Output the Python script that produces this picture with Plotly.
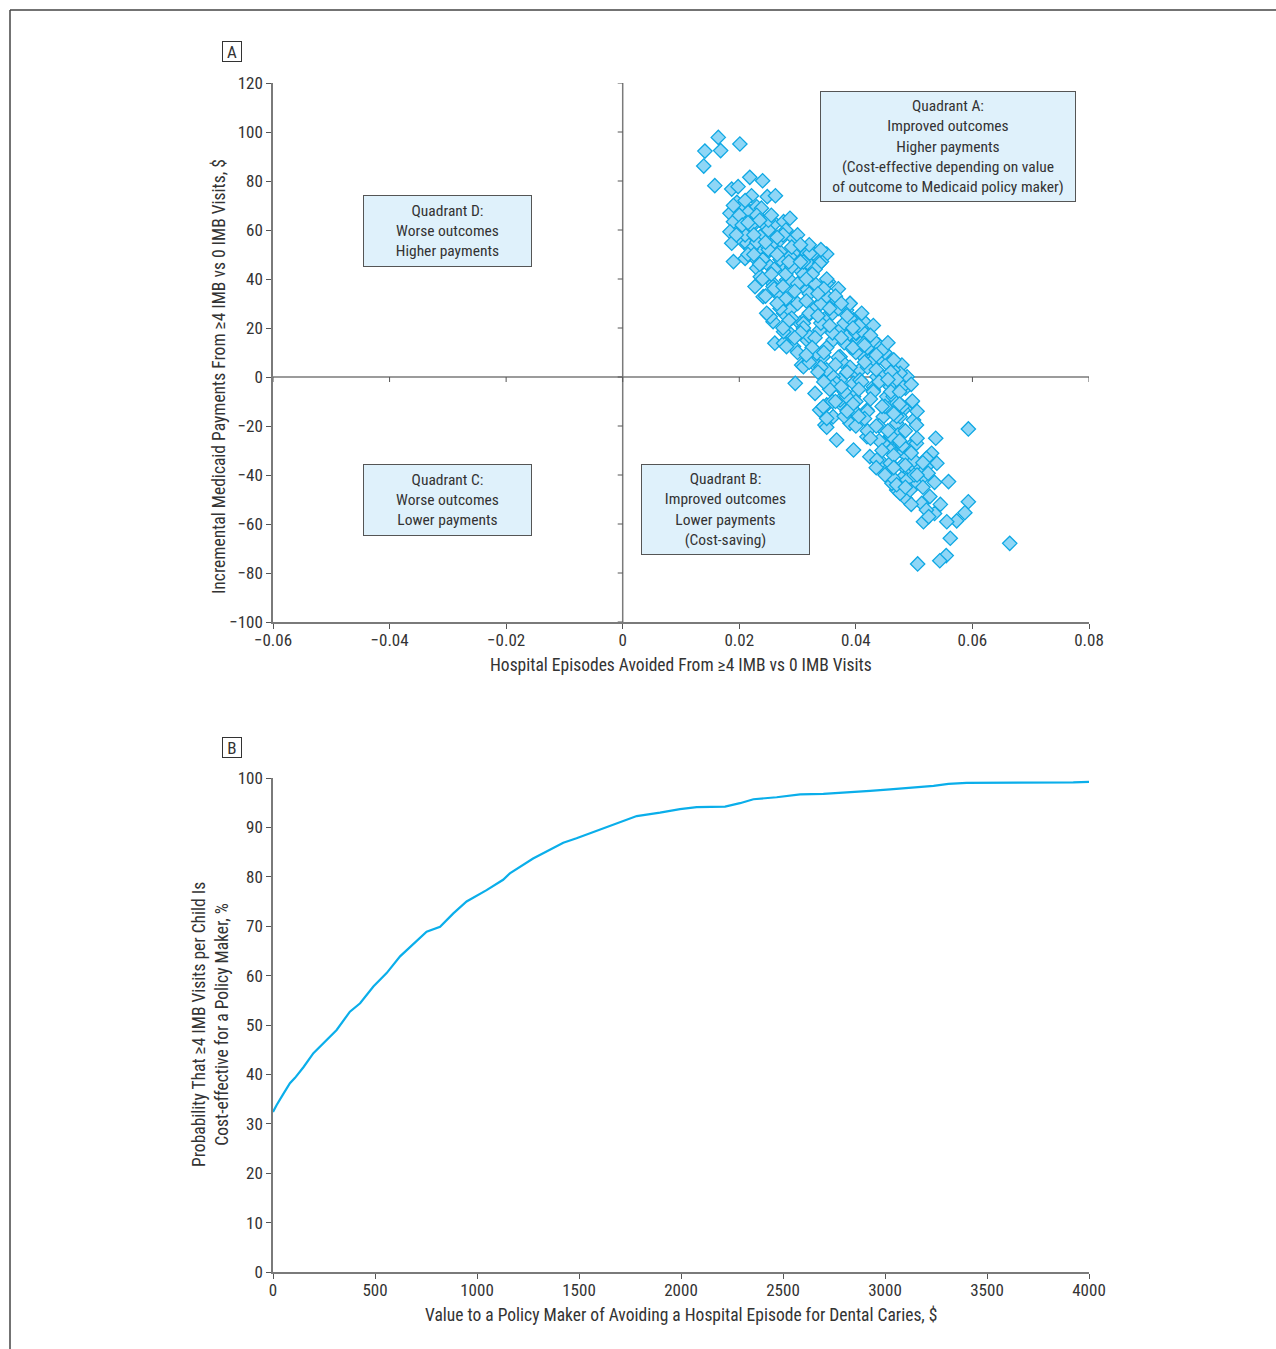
import plotly.graph_objects as go

# ---------------- Panel A data ----------------
episodes_avoided = [
    0.0164, 0.0201, 0.0141, 0.0168, 0.0139, 0.0158, 0.0218, 0.0240, 0.0187, 0.0198,
    0.0221, 0.0248, 0.0262, 0.0196, 0.0207, 0.0230, 0.0238, 0.0184, 0.0215, 0.0190,
    0.0184, 0.0201, 0.0224, 0.0244, 0.0261, 0.0276, 0.0287, 0.0187, 0.0207, 0.0230,
    0.0253, 0.0293, 0.0190, 0.0210, 0.0230, 0.0247, 0.0270, 0.0293, 0.0316, 0.0327,
    0.0350, 0.0341, 0.0321, 0.0298, 0.0276, 0.0253, 0.0230,
    0.0227, 0.0250, 0.0258, 0.0261, 0.0276, 0.0293, 0.0307, 0.0296, 0.0330, 0.0350,
    0.0347, 0.0417, 0.0439, 0.0453, 0.0479, 0.0488, 0.0476, 0.0496, 0.0481, 0.0499,
    0.0504, 0.0373, 0.0390, 0.0384, 0.0367, 0.0353, 0.0338, 0.0321, 0.0236, 0.0264,
    0.0287, 0.0316, 0.0338, 0.0361, 0.0316, 0.0287, 0.0327, 0.0350, 0.0373, 0.0401,
    0.0430, 0.0453, 0.0396, 0.0373, 0.0419, 0.0447, 0.0361, 0.0390, 0.0470, 0.0304,
    0.0287, 0.0258, 0.0236, 0.0213, 0.0316, 0.0333, 0.0350, 0.0373, 0.0401, 0.0413,
    0.0436, 0.0344, 0.0304, 0.0276, 0.0258, 0.0281, 0.0236,
    0.0485, 0.0497, 0.0593, 0.0537, 0.0350, 0.0367, 0.0493, 0.0530, 0.0539, 0.0559,
    0.0593, 0.0527, 0.0513, 0.0485, 0.0470, 0.0453, 0.0462, 0.0396, 0.0424, 0.0444,
    0.0419, 0.0453, 0.0476, 0.0488, 0.0504, 0.0516, 0.0521, 0.0476, 0.0396, 0.0373,
    0.0464, 0.0430, 0.0396, 0.0361, 0.0407, 0.0373, 0.0430, 0.0338, 0.0350, 0.0472,
    0.0499, 0.0479,
    0.0587, 0.0573, 0.0556, 0.0562, 0.0555, 0.0544, 0.0506, 0.0664, 0.0516, 0.0535,
    0.0521, 0.0510, 0.0524, 0.0521, 0.0499, 0.0481, 0.0476, 0.0436, 0.0459, 0.0488,
    0.0504, 0.0476, 0.0447, 0.0464, 0.0488, 0.0493,
    0.0253, 0.0344, 0.0310, 0.0276, 0.0281, 0.0247, 0.0241, 0.0270, 0.0287, 0.0310,
    0.0321, 0.0333, 0.0350, 0.0367, 0.0384, 0.0396, 0.0350, 0.0321, 0.0287, 0.0258,
    0.0390,
    0.0384, 0.0401, 0.0424, 0.0430, 0.0447, 0.0464, 0.0459, 0.0470, 0.0407, 0.0407,
    0.0384, 0.0379,
    0.022, 0.024, 0.026, 0.028, 0.030, 0.032, 0.034, 0.036, 0.038, 0.040, 0.042, 0.044, 0.046, 0.048,
    0.021, 0.023, 0.025, 0.027, 0.029, 0.031, 0.033, 0.035, 0.037, 0.039, 0.041, 0.043, 0.045, 0.047,
    0.024, 0.026, 0.028, 0.030, 0.032, 0.034, 0.036, 0.038, 0.040, 0.042, 0.044, 0.046, 0.048,
    0.027, 0.029, 0.031, 0.033, 0.035, 0.037, 0.039, 0.041, 0.043, 0.045, 0.047,
    0.030, 0.032, 0.034, 0.036, 0.038, 0.040, 0.042, 0.044, 0.046, 0.048, 0.050,
    0.036, 0.038, 0.040, 0.042, 0.044, 0.046, 0.048, 0.050, 0.045, 0.047,
    0.025, 0.027, 0.029, 0.031, 0.033, 0.035, 0.037, 0.039, 0.041, 0.043,
    0.020, 0.022, 0.019, 0.021, 0.023, 0.025, 0.028, 0.030, 0.032, 0.034,
    0.0205, 0.0225, 0.0245, 0.0265, 0.0285, 0.0305, 0.0325, 0.0345, 0.0365, 0.0385,
    0.0405, 0.0425, 0.0445, 0.0465,
    0.0215, 0.0235, 0.0255, 0.0275, 0.0295, 0.0315, 0.0335, 0.0355, 0.0375, 0.0395,
    0.0415, 0.0435, 0.0455, 0.0475,
    0.0245, 0.0265, 0.0285, 0.0305, 0.0325, 0.0345, 0.0365, 0.0385, 0.0405, 0.0425,
    0.0445, 0.0465, 0.0485, 0.0505,
    0.0275, 0.0295, 0.0315, 0.0335, 0.0355, 0.0375, 0.0395, 0.0415, 0.0435, 0.0455,
    0.0475, 0.0495, 0.0515,
    0.0345, 0.0365, 0.0385, 0.0405, 0.0425, 0.0445, 0.0465, 0.0485, 0.0505, 0.0465,
    0.0485, 0.0435,
    0.0195, 0.0215, 0.0235, 0.0255, 0.0275, 0.0265, 0.0225, 0.0305, 0.0315, 0.0335,
    0.0355, 0.0375, 0.0395, 0.0415, 0.0435, 0.0455, 0.0475, 0.0495, 0.0505, 0.0515,
    0.0535, 0.0525, 0.0545, 0.0495,
]
payment_diff = [
    97.8, 95.1, 92.2, 92.4, 86.1, 78.1, 81.5, 80.1, 76.7, 77.7,
    74.0, 73.6, 74.0, 71.3, 70.2, 69.5, 68.9, 66.8, 67.2, 63.4,
    59.3, 59.3, 62.0, 62.0, 62.7, 63.4, 64.8, 54.6, 55.2, 56.6,
    58.0, 56.6, 47.1, 48.4, 47.8, 50.5, 51.1, 50.5, 50.5, 50.5,
    50.2, 47.1, 45.7, 45.7, 45.7, 45.0, 44.4,
    36.9, 25.3, 22.6, 13.8, 13.8, 12.4, 4.9, -2.6, -6.7, -11.4,
    -19.6, 21.9, 13.1, 5.6, 4.9, 0.1, 1.5, -10.1, -13.5, -17.6,
    -19.6, 8.3, 12.4, 21.9, 31.4, 38.9, 46.4, 50.5, 40.9, 34.2,
    28.7, 24.6, 19.2, 15.1, 15.1, 17.8, 5.6, 1.5, -1.2, 1.5,
    -4.0, -8.0, -8.0, -10.7, -13.5, -16.2, -16.2, -18.9, -18.9, 43.7,
    49.1, 54.6, 57.3, 54.6, 35.5, 28.7, 24.6, 19.2, 16.4, 8.3,
    0.1, 8.3, 21.9, 26.0, 38.2, 39.6, 50.5,
    -4.6, -9.8, -21.2, -25.0, -20.5, -25.7, -28.4, -31.1, -35.2, -42.7,
    -50.9, -48.8, -51.6, -49.5, -46.1, -39.3, -43.4, -29.8, -32.5, -34.6,
    -24.4, -27.1, -29.8, -38.0, -43.4, -40.7, -36.6, -16.2, -13.5, -9.4,
    -8.0, -5.3, -2.6, 0.1, 2.9, 6.9, 8.3, -13.5, -16.9, -23.7,
    -33.9, -41.3,
    -55.4, -58.7, -59.1, -65.8, -72.9, -75.0, -76.3, -67.9, -59.1, -55.7,
    -54.3, -38.6, -39.3, -33.2, -36.6, -44.1, -47.5, -33.9, -35.2, -32.5,
    -27.1, -27.1, -27.1, -41.3, -42.0, -46.1,
    24.6, -12.1, 4.2, 18.5, 12.4, 26.0, 32.8, 33.5, 27.3, 21.9,
    16.4, 9.7, 2.9, -2.6, -8.0, 23.3, 38.2, 39.6, 39.6, 36.9,
    30.1,
    27.3, 17.8, 14.4, 6.9, 0.1, 2.9, -4.0, -10.7, -1.2, 9.7,
    16.4, 5.6,
    52, 48, 44, 42, 38, 34, 30, 26, 22, 18, 12, 8, 2, -4,
    58, 55, 52, 48, 45, 42, 38, 33, 28, 24, 19, 15, 10, -1,
    40, 36, 32, 30, 26, 22, 18, 14, 10, 4, -2, -6, -12,
    28, 24, 20, 16, 12, 8, 4, -2, -6, -12, -16,
    10, 6, 4, -4, -6, -10, -14, -20, -24, -28, -34,
    -10, -16, -20, -22, -26, -30, -36, -40, -40, -44,
    60, 56, 53, 47, 44, 40, 36, 30, 26, 21,
    66, 62, 70, 72, 66, 64, 60, 58, 54, 52,
    62, 58, 55, 50, 47, 47, 42, 36, 33, 25,
    21, 17, 11, 7,
    50, 46, 42, 37, 35, 31, 25, 21, 16, 12,
    6, 3, -1, -6,
    33, 30, 23, 18, 12, 10, 5, 2, -5, -9,
    -12, -15, -22, -25,
    20, 16, 9, 2, -5, -4, -11, -17, -20, -22,
    -26, -31, -35,
    -2, -10, -14, -16, -25, -30, -32, -36, -40, -37,
    -45, -37,
    58, 63, 64, 66, 58, 57, 50, 54, 40, 34,
    28, 30, 20, 13, 9, 14, -11, -3, -14, -45,
    -43, -57, -52, -52,
]

xa_tickvals = [-0.06, -0.04, -0.02, 0, 0.02, 0.04, 0.06, 0.08]
xa_ticktext = ["\u22120.06", "\u22120.04", "\u22120.02", "0", "0.02", "0.04", "0.06", "0.08"]
ya_tickvals = [-100, -80, -60, -40, -20, 0, 20, 40, 60, 80, 100, 120]
ya_ticktext = ["\u2212100", "\u221280", "\u221260", "\u221240", "\u221220", "0",
               "20", "40", "60", "80", "100", "120"]

# ---------------- Panel B data ----------------
value_dollars = [0, 10, 18, 50, 83, 108, 150, 198, 247, 312, 377, 427, 492, 557, 623,
                 688, 753, 819, 884, 949, 1047, 1128, 1161, 1275, 1341, 1423, 1488,
                 1554, 1652, 1783, 1897, 1995, 2077, 2216, 2289, 2355, 2469, 2584,
                 2698, 2796, 2927, 3025, 3131, 3238, 3311, 3400, 3923, 4000]
prob_ce = [32.4, 33.2, 33.8, 36.0, 38.2, 39.3, 41.5, 44.3, 46.3, 49.0, 52.7, 54.4,
           57.8, 60.5, 63.9, 66.5, 68.9, 69.9, 72.6, 75.0, 77.3, 79.4, 80.7, 83.7,
           85.1, 86.9, 87.8, 88.8, 90.3, 92.3, 93.0, 93.7, 94.1, 94.2, 94.9, 95.7,
           96.1, 96.7, 96.8, 97.0, 97.4, 97.7, 98.0, 98.4, 98.8, 99.0, 99.1, 99.2]
xb_tickvals = [0, 500, 1000, 1500, 2000, 2500, 3000, 3500, 4000]
yb_tickvals = [0, 10, 20, 30, 40, 50, 60, 70, 80, 90, 100]

# ---------------- layout helpers ----------------
W, H = 1276, 1349
FONT = "Liberation Sans Narrow, Arial Narrow, Roboto Condensed, sans-serif"
AXC = "#7a7a7a"
TXT = "#333333"
BOXFILL = "#dff1fb"


def px(p):
    return p / W


def py(p):
    return 1 - p / H


fig = go.Figure()

fig.add_trace(go.Scatter(
    x=episodes_avoided, y=payment_diff, mode="markers",
    marker=dict(symbol="diamond", size=11, color="#8fd6f6",
                line=dict(color="#0ea8e4", width=1.3)),
    xaxis="x", yaxis="y", showlegend=False, hoverinfo="skip"))

fig.add_trace(go.Scatter(
    x=value_dollars, y=prob_ce, mode="lines",
    line=dict(color="#0aaeea", width=2.2),
    xaxis="x2", yaxis="y2", showlegend=False, hoverinfo="skip"))

axis_common = dict(showgrid=False, showline=True, linecolor=AXC, linewidth=1.5,
                   ticks="outside", ticklen=5, tickwidth=1, tickcolor="#555",
                   automargin=False,
                   tickfont=dict(family=FONT, size=17, color=TXT), fixedrange=True)

fig.update_layout(
    template="none",
    width=W, height=H, margin=dict(l=0, r=0, t=0, b=0, pad=0, autoexpand=False),
    paper_bgcolor="white", plot_bgcolor="white",
    font=dict(family=FONT, color=TXT),
    xaxis=dict(domain=[px(273), px(1089)], range=[-0.06, 0.08], anchor="y",
               tickvals=xa_tickvals, ticktext=xa_ticktext, ticklabelstandoff=-3,
               zeroline=False, **axis_common),
    yaxis=dict(domain=[py(622), py(83)], range=[-100, 120], anchor="x",
               tickvals=ya_tickvals, ticktext=ya_ticktext,
               zeroline=False, **axis_common),
    xaxis2=dict(domain=[px(273), px(1089)], range=[0, 4000], anchor="y2",
                tickvals=xb_tickvals, ticklabelstandoff=-3,
                zeroline=False, **axis_common),
    yaxis2=dict(domain=[py(1272), py(778)], range=[0, 100], anchor="x2",
                tickvals=yb_tickvals, zeroline=False, **axis_common),
)

shapes = []
# quadrant dividing lines (drawn below markers)
shapes.append(dict(type="line", xref="x", yref="y", x0=0, x1=0, y0=-100, y1=120,
                   line=dict(color=AXC, width=1.5), layer="below"))
shapes.append(dict(type="line", xref="x", yref="y", x0=-0.06, x1=0.08, y0=0, y1=0,
                   line=dict(color=AXC, width=1.5), layer="below"))
for v in ya_tickvals:
    shapes.append(dict(type="line", xref="x", yref="y", xsizemode="pixel", xanchor=0,
                       x0=-5, x1=0, y0=v, y1=v, line=dict(color="#555", width=1),
                       layer="below"))
for v in xa_tickvals:
    shapes.append(dict(type="line", xref="x", yref="y", ysizemode="pixel", yanchor=0,
                       y0=-5, y1=0, x0=v, x1=v, line=dict(color="#555", width=1),
                       layer="below"))
# page frame
shapes.append(dict(type="line", xref="paper", yref="paper", x0=px(10), x1=1,
                   y0=py(10), y1=py(10), line=dict(color="#444", width=1.5)))
shapes.append(dict(type="line", xref="paper", yref="paper", x0=px(10), x1=px(10),
                   y0=0, y1=py(10), line=dict(color="#444", width=1.5)))
fig.update_layout(shapes=shapes)

ann = []


def box(text, cx, cy, w, h):
    ann.append(dict(text=text, xref="paper", yref="paper", x=px(cx), y=py(cy),
                    xanchor="center", yanchor="middle", showarrow=False,
                    width=w, height=h, align="center", valign="middle",
                    bgcolor=BOXFILL, bordercolor="#555", borderwidth=1, borderpad=0,
                    font=dict(family=FONT, size=15.5, color=TXT)))


box("Quadrant D:<br>Worse outcomes<br>Higher payments", 447.5, 231, 167, 70)
box("Quadrant C:<br>Worse outcomes<br>Lower payments", 447.5, 500, 167, 70)
box("Quadrant B:<br>Improved outcomes<br>Lower payments<br>(Cost-saving)", 725.5, 509.5, 167, 89)
box("Quadrant A:<br>Improved outcomes<br>Higher payments<br>(Cost-effective depending on value<br>of outcome to Medicaid policy maker)",
    948, 146.5, 254, 109)


def label(text, cx, cy):
    ann.append(dict(text=text, xref="paper", yref="paper", x=px(cx), y=py(cy),
                    xanchor="center", yanchor="middle", showarrow=False,
                    width=18, height=19, bgcolor="white", bordercolor="#333",
                    borderwidth=1, borderpad=0,
                    font=dict(family=FONT, size=17, color=TXT)))


label("A", 232, 52)
label("B", 232, 747)

title_font = dict(family=FONT, size=17.5, color=TXT)
ann.append(dict(text="Hospital Episodes Avoided From \u22654 IMB vs 0 IMB Visits",
                xref="paper", yref="paper", x=px(681), y=py(665), xanchor="center",
                yanchor="middle", showarrow=False, font=title_font))
ann.append(dict(text="Incremental Medicaid Payments From \u22654 IMB vs 0 IMB Visits, $",
                xref="paper", yref="paper", x=px(219), y=py(377), xanchor="center",
                yanchor="middle", showarrow=False, textangle=-90, font=title_font))
ann.append(dict(text="Value to a Policy Maker of Avoiding a Hospital Episode for Dental Caries, $",
                xref="paper", yref="paper", x=px(681), y=py(1315), xanchor="center",
                yanchor="middle", showarrow=False, font=title_font))
ann.append(dict(text="Probability That \u22654 IMB Visits per Child Is<br>Cost-effective for a Policy Maker, %",
                xref="paper", yref="paper", x=px(210), y=py(1025), xanchor="center",
                yanchor="middle", showarrow=False, textangle=-90, font=title_font))
fig.update_layout(annotations=ann)

fig.write_html("out.html", config={"responsive": False, "displayModeBar": False},
               post_script="document.body.style.margin='0';")
